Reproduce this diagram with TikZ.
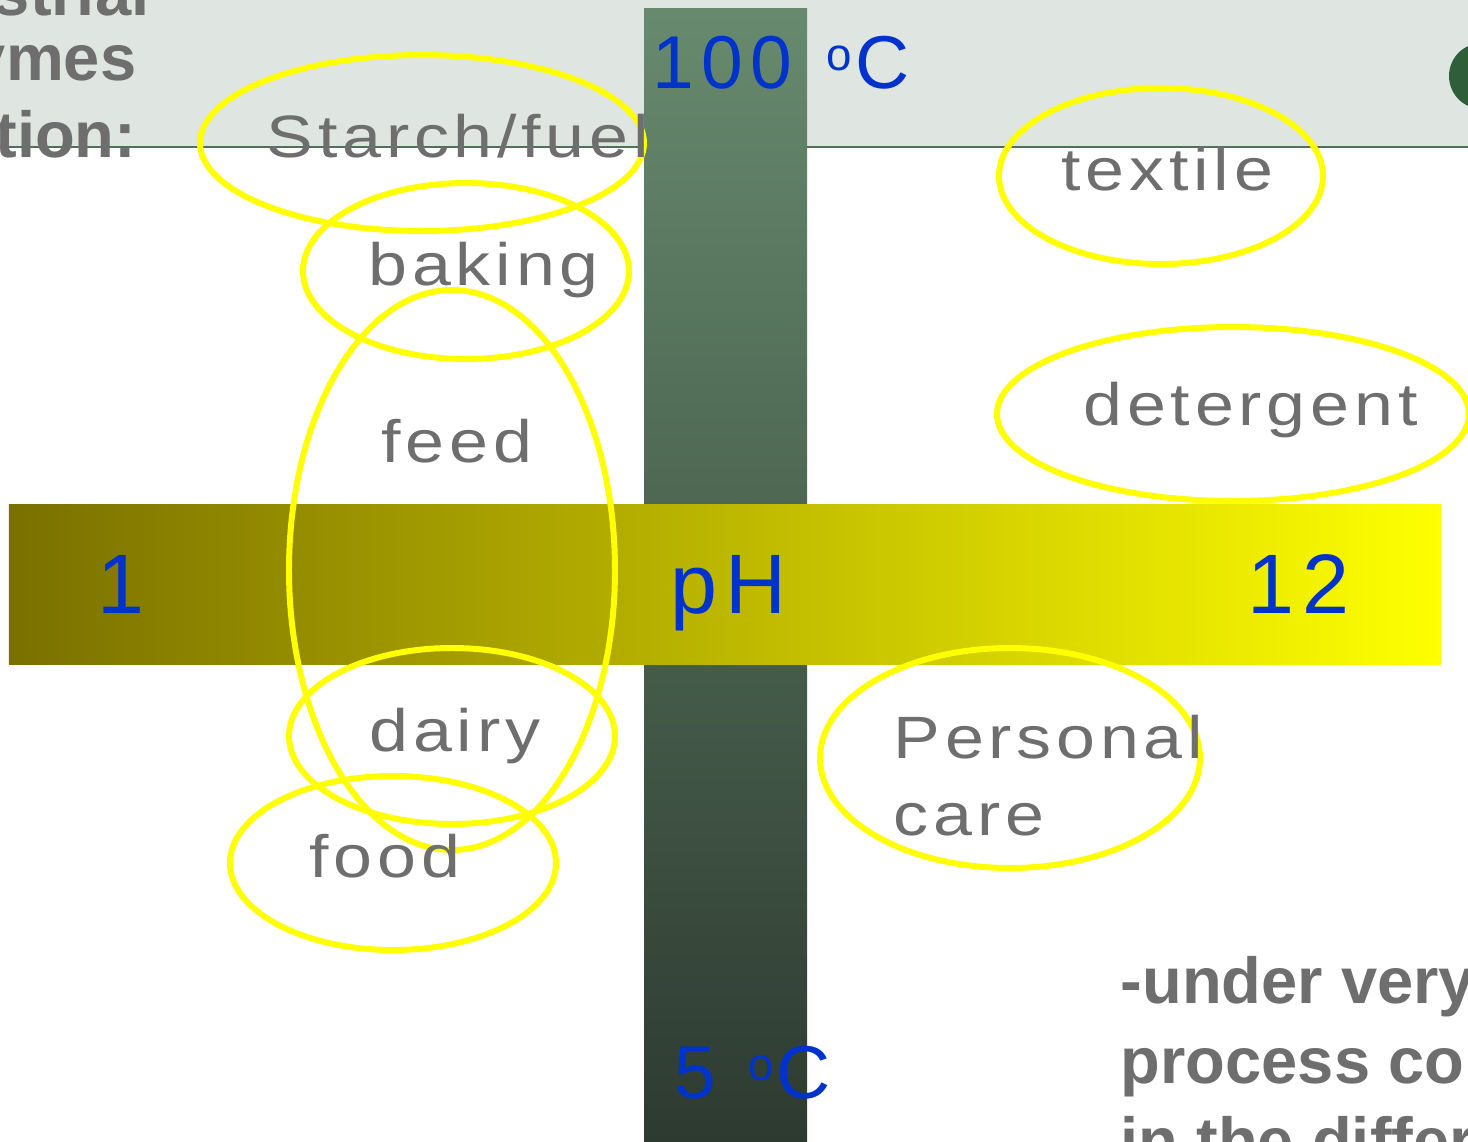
\documentclass[tikz,border=0pt]{standalone}
\usepackage{fontspec}
\setmainfont{Liberation Sans}
\newfontfamily\usagefont[LetterSpace=8,FakeStretch=1.17]{Liberation Sans}
\newfontfamily\scalefont[LetterSpace=10]{Liberation Sans}
\definecolor{bandgray}{HTML}{DFE6E1}
\definecolor{bandline}{HTML}{4E7256}
\definecolor{dotgreen}{HTML}{2F5F3A}
\definecolor{tempTop}{HTML}{678A6E}
\definecolor{tempMid}{HTML}{52705A}
\definecolor{tempBot}{HTML}{2D3A30}
\definecolor{acidOlive}{HTML}{7A7000}
\definecolor{baseYellow}{HTML}{FFFF00}
\definecolor{ringyellow}{HTML}{FFFF00}
\definecolor{labelgray}{HTML}{6E6E6E}
\definecolor{scaleblue}{HTML}{0033CC}
\newcommand{\degsign}{\raisebox{5pt}{\fontsize{13}{13}\selectfont o}\hspace{1pt}}

\begin{document}
\begin{tikzpicture}[x=0.01cm,y=-0.01cm,
    ring/.style={draw=ringyellow,line width=1.7pt},
    usage/.style={anchor=base west,inner sep=0pt,text=labelgray,
      font=\usagefont\fontsize{17}{22}\selectfont},
    scalelbl/.style={anchor=base west,inner sep=0pt,text=scaleblue,
      font=\scalefont\fontsize{24}{28}\selectfont},
    templbl/.style={scalelbl,font=\scalefont\fontsize{21.3}{25}\selectfont},
    heading/.style={inner sep=0pt,text=labelgray,
      font=\bfseries\fontsize{18.5}{22}\selectfont}]
  \useasboundingbox (0,0) rectangle (1468,1142);
  % header band
  \fill[bandgray] (0,0) rectangle (1468,147);
  \draw[bandline,line width=0.7pt] (0,147) -- (1468,147);
  \fill[dotgreen] (1482,76) circle (33);
  \foreach \w/\xr/\yb in {Industrial/150/15,enzymes/137/80,application:/137/157}
    \node[heading,anchor=base east] (head-\yb) at (\xr,\yb) {\w};
  % temperature and pH bars
  \shade[top color=tempTop,middle color=tempMid,bottom color=tempBot]
    (644,8) rectangle (807,1142);
  \shade[left color=acidOlive,right color=baseYellow] (9,504) rectangle (1441,664);
  \node[templbl] (tmax) at (652,88) {100\hspace{9.5pt}\degsign C};
  \node[templbl] (tmin) at (674,1098) {5\hspace{9pt}\degsign C};
  \node[scalelbl] (phlo) at (97,613) {1};
  \node[scalelbl] (ph) at (670,613) {pH};
  \node[scalelbl] (phhi) at (1247,613) {12};
  % application rings
  \draw[ring] (422,143) ellipse [x radius=222, y radius=88];
  \draw[ring] (466,271) ellipse [x radius=163, y radius=88];
  \draw[ring] (452,570) ellipse [x radius=163, y radius=280];
  \draw[ring] (452,736) ellipse [x radius=163, y radius=88];
  \draw[ring] (393,863) ellipse [x radius=163, y radius=87];
  \draw[ring] (1161,176) ellipse [x radius=162, y radius=88];
  \draw[ring] (1233,414) ellipse [x radius=236, y radius=87];
  \draw[ring] (1010,758) ellipse [x radius=190, y radius=110];
  % application labels
  \node[usage] (starch) at (266,157) {Starch/fuel};
  \node[usage] (baking) at (368,285) {baking};
  \node[usage] (feed) at (381,462) {feed};
  \node[usage] (dairy) at (369,751) {dairy};
  \node[usage] (food) at (309,877) {food};
  \node[usage] (textile) at (1061,190) {textile};
  \node[usage] (detergent) at (1083,425) {detergent};
  \node[usage] (personal) at (893,758) {Personal};
  \node[usage] (care) at (893,835) {care};
  % side note
  \foreach \w/\yb in {-under very harsh/1003,process conditions/1083,in the different/1163}
    \node[heading,anchor=base west] (note-\yb) at (1120,\yb) {\w};
\end{tikzpicture}
\end{document}
